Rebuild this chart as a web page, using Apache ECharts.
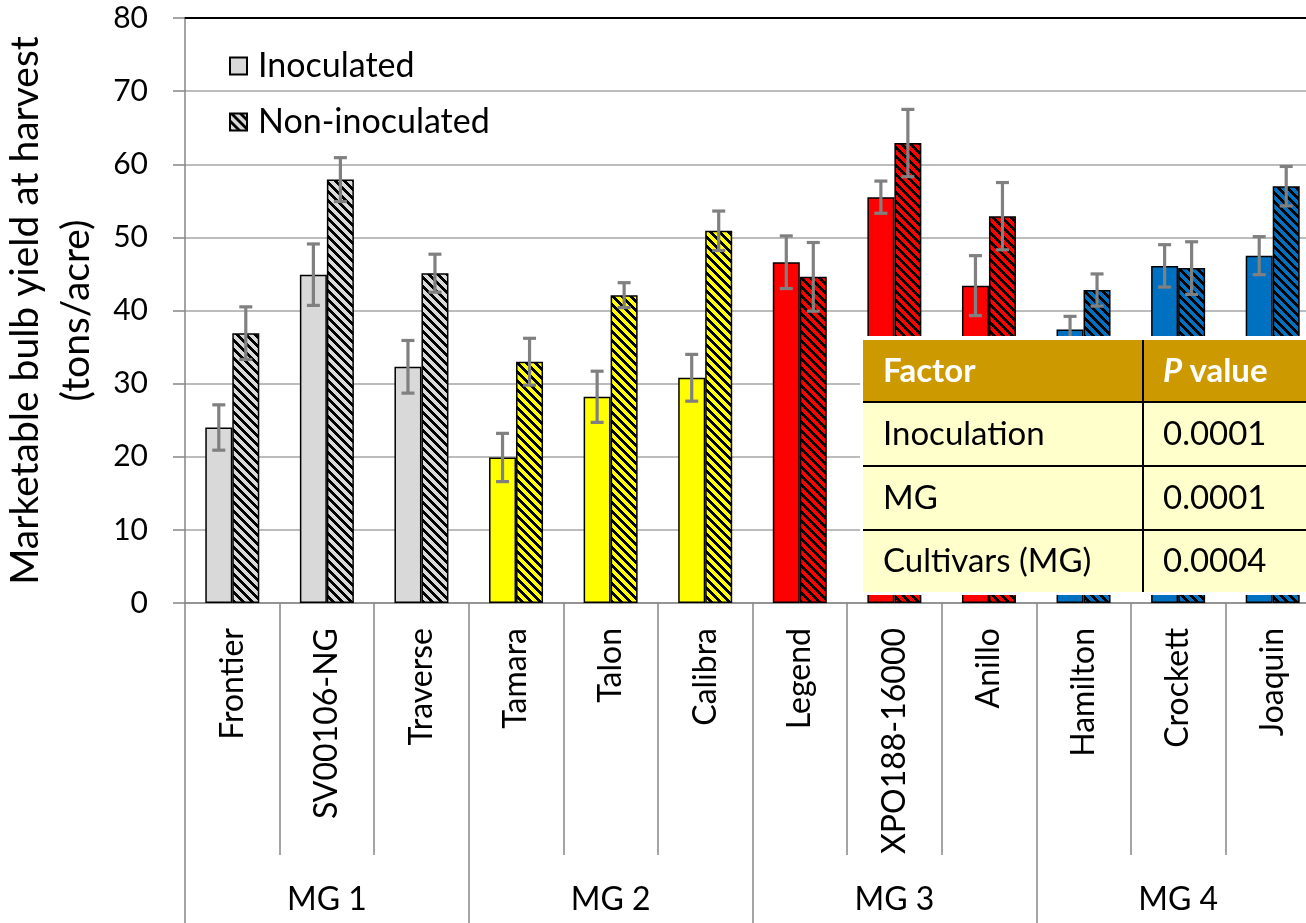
<!DOCTYPE html>
<html>
<head>
<meta charset="utf-8">
<script src="https://cdn.jsdelivr.net/npm/echarts@6/dist/echarts.min.js"></script>
<style>
html,body{margin:0;padding:0;background:#fff;}
#chart{width:1306px;height:923px;}
</style>
</head>
<body>
<div id="chart"></div>
<script>
// ---- data ----
const categories = ['Frontier','SV00106-NG','Traverse','Tamara','Talon','Calibra','Legend','XPO188-16000','Anillo','Hamilton','Crockett','Joaquin'];
const groupNames = ['MG 1','MG 2','MG 3','MG 4'];
const groupOf = [0,0,0,1,1,1,2,2,2,3,3,3];
const inoculated = [24.0, 44.9, 32.3, 19.9, 28.2, 30.8, 46.6, 55.5, 43.4, 37.4, 46.1, 47.5];
const nonInoculated = [36.9, 57.9, 45.1, 33.0, 42.1, 50.9, 44.6, 62.9, 52.9, 42.8, 45.8, 57.0];
const errInoculated = [3.1, 4.2, 3.6, 3.3, 3.5, 3.2, 3.6, 2.2, 4.1, 1.8, 2.9, 2.6];
const errNonInoculated = [3.6, 3.0, 2.6, 3.2, 1.7, 2.7, 4.7, 4.6, 4.6, 2.2, 3.6, 2.7];
const yTicks = [0, 10, 20, 30, 40, 50, 60, 70, 80];
const tableFactors = ['Inoculation', 'MG', 'Cultivars (MG)'];
const tablePValues = ['0.0001', '0.0001', '0.0004'];

// ---- styles ----
const groupColors = ['#D9D9D9', '#FFFF00', '#FF0000', '#0070C0'];
const FONT = 'Lato';
const BAR_W = 27;

function hatch(bg) {
  const P = 9, W = 4;
  const c = document.createElement('canvas');
  c.width = P; c.height = P;
  const ctx = c.getContext('2d');
  const img = ctx.createImageData(P, P);
  const r = parseInt(bg.slice(1,3),16), g = parseInt(bg.slice(3,5),16), b = parseInt(bg.slice(5,7),16);
  for (let y = 0; y < P; y++) for (let x = 0; x < P; x++) {
    const k = (y*P + x)*4;
    const black = ((x - y + 2*P) % P) < W;
    img.data[k] = black ? 0 : r;
    img.data[k+1] = black ? 0 : g;
    img.data[k+2] = black ? 0 : b;
    img.data[k+3] = 255;
  }
  ctx.putImageData(img, 0, 0);
  return { image: c, repeat: 'repeat' };
}
const hatchColors = groupColors.map(hatch);

const chart = echarts.init(document.getElementById('chart'), null, {renderer: 'canvas'});

function errSeries(vals, errs, offset) {
  return {
    type: 'custom',
    xAxisIndex: 0,
    z: 5,
    silent: true,
    data: vals.map((v, i) => [i, v - errs[i], v + errs[i]]),
    renderItem: function (params, api) {
      const lo = api.coord([api.value(0), api.value(1)]);
      const hi = api.coord([api.value(0), api.value(2)]);
      const x = lo[0] + offset;
      const st = { stroke: '#808080', lineWidth: 3.2 };
      return {
        type: 'group',
        children: [
          { type: 'line', shape: { x1: x, y1: lo[1], x2: x, y2: hi[1] }, style: st },
          { type: 'line', shape: { x1: x - 6.5, y1: lo[1], x2: x + 6.5, y2: lo[1] }, style: st },
          { type: 'line', shape: { x1: x - 6.5, y1: hi[1], x2: x + 6.5, y2: hi[1] }, style: st }
        ]
      };
    }
  };
}

// table (annotation) layout
const T = { left: 860, top: 336, colX: 280, width: 470, rowH: [62, 64, 64, 62] };
const rowTops = [0];
for (let i = 0; i < T.rowH.length; i++) rowTops.push(rowTops[i] + T.rowH[i]);
const tableH = rowTops[rowTops.length - 1];
const ZT = 100;
const tableChildren = [
  { type: 'rect', z: ZT, shape: { x: -3, y: -4, width: T.width + 6, height: tableH + 7 }, style: { fill: '#fff' } },
  { type: 'rect', z: ZT + 1, shape: { x: 0, y: 0, width: T.width, height: T.rowH[0] }, style: { fill: '#CC9900' } },
  { type: 'rect', z: ZT + 1, shape: { x: 0, y: T.rowH[0], width: T.width, height: tableH - T.rowH[0] }, style: { fill: '#FFFFCC' } },
  { type: 'line', z: ZT + 2, shape: { x1: T.colX, y1: 0, x2: T.colX, y2: tableH }, style: { stroke: '#000', lineWidth: 2 } }
];
for (let i = 1; i < rowTops.length - 1; i++) {
  tableChildren.push({ type: 'line', z: ZT + 2, shape: { x1: 0, y1: rowTops[i], x2: T.width, y2: rowTops[i] }, style: { stroke: '#000', lineWidth: 2 } });
}
tableChildren.push({ type: 'text', z: ZT + 3, x: 20, y: T.rowH[0] / 2, style: { text: 'Factor', fill: '#fff', font: 'bold 33px ' + FONT, verticalAlign: 'middle' } });
tableChildren.push({ type: 'text', z: ZT + 3, x: 300, y: T.rowH[0] / 2, style: {
  text: '{p|P}{v|\u00a0value}', verticalAlign: 'middle',
  rich: { p: { fill: '#fff', fontStyle: 'italic', fontWeight: 'bold', fontSize: 33, fontFamily: FONT },
          v: { fill: '#fff', fontWeight: 'bold', fontSize: 33, fontFamily: FONT } }
} });
tableFactors.forEach((f, i) => {
  const cy = rowTops[i + 1] + T.rowH[i + 1] / 2;
  tableChildren.push({ type: 'text', z: ZT + 3, x: 20, y: cy, style: { text: f, fill: '#000', font: '33px ' + FONT, verticalAlign: 'middle' } });
  tableChildren.push({ type: 'text', z: ZT + 3, x: 300, y: cy, style: { text: tablePValues[i], fill: '#000', font: '33px ' + FONT, verticalAlign: 'middle' } });
});

const option = {
  animation: false,
  backgroundColor: '#fff',
  grid: { left: 185, top: 18, width: 1135, bottom: 320, containLabel: false, outerBoundsMode: 'none' },
  legend: {
    orient: 'vertical',
    left: 224, top: 44,
    itemWidth: 17, itemHeight: 17,
    itemGap: 22,
    icon: 'rect',
    textStyle: { fontFamily: FONT, fontSize: 34, color: '#000', padding: [0, 0, 0, 6] },
    data: ['Inoculated', 'Non-inoculated']
  },
  xAxis: [
    {
      type: 'category', data: categories, position: 'bottom',
      axisLine: { show: true, lineStyle: { color: '#868686', width: 1.5 } },
      axisTick: { show: true, interval: 0, length: 252, alignWithLabel: false, lineStyle: { color: '#868686', width: 1.5 } },
      axisLabel: { interval: 0, rotate: 90, margin: 25, fontFamily: FONT, fontSize: 32, color: '#000' },
      splitLine: { show: false }
    },
    {
      type: 'category', data: groupNames, position: 'bottom',
      axisLine: { show: false },
      axisTick: { show: true, interval: 0, length: 320, alignWithLabel: false, lineStyle: { color: '#868686', width: 1.5 } },
      axisLabel: { interval: 0, margin: 281, fontFamily: FONT, fontSize: 32, color: '#000' }
    },
    {
      type: 'category', data: categories, position: 'top',
      axisLine: { show: true, lineStyle: { color: '#000', width: 2 } },
      axisTick: { show: false }, axisLabel: { show: false }
    }
  ],
  yAxis: {
    type: 'value', min: yTicks[0], max: yTicks[yTicks.length - 1], interval: 10,
    name: 'Marketable bulb yield at harvest\n(tons/acre)',
    nameLocation: 'middle', nameGap: 75,
    nameTextStyle: { fontFamily: FONT, fontSize: 39, color: '#000', lineHeight: 51 },
    axisLine: { show: true, lineStyle: { color: '#868686', width: 1.5 } },
    axisTick: { show: true, length: 12, lineStyle: { color: '#868686', width: 1.5 } },
    axisLabel: { margin: 37, fontFamily: FONT, fontSize: 30, color: '#000' },
    splitLine: { show: true, lineStyle: { color: '#A6A6A6', width: 1.5 } }
  },
  series: [
    {
      name: 'Inoculated', type: 'bar', xAxisIndex: 0,
      barWidth: BAR_W, barGap: '0%',
      itemStyle: { color: groupColors[0], borderColor: '#000', borderWidth: 1.5 },
      data: inoculated.map((v, i) => ({ value: v, itemStyle: { color: groupColors[groupOf[i]] } }))
    },
    {
      name: 'Non-inoculated', type: 'bar', xAxisIndex: 0,
      barWidth: BAR_W, barGap: '0%',
      itemStyle: { color: hatchColors[0], borderColor: '#000', borderWidth: 1.5 },
      data: nonInoculated.map((v, i) => ({ value: v, itemStyle: { color: hatchColors[groupOf[i]] } }))
    },
    errSeries(inoculated, errInoculated, -BAR_W / 2),
    errSeries(nonInoculated, errNonInoculated, BAR_W / 2)
  ],
  graphic: [
    { type: 'group', left: T.left, top: T.top, z: ZT, children: tableChildren }
  ]
};
chart.setOption(option);
</script>
</body>
</html>
